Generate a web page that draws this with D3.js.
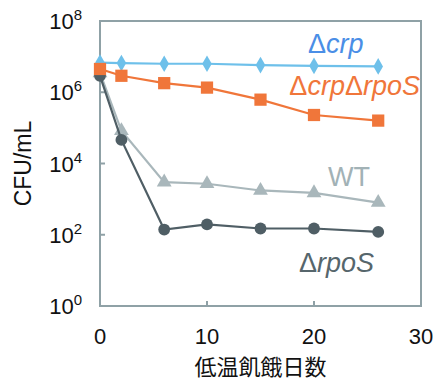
<!DOCTYPE html>
<html><head><meta charset="utf-8">
<script src="https://cdn.jsdelivr.net/npm/d3@7/dist/d3.min.js"></script>
<style>body{margin:0;background:#fff}svg{display:block}</style>
</head><body>
<script>
const days = [0, 2, 6, 10, 15, 20, 26];
const crp = [6.8e6, 6.6e6, 6.3e6, 6.3e6, 5.8e6, 5.5e6, 5.3e6];
const crpRpoS = [4.5e6, 2.9e6, 1.8e6, 1.35e6, 6.2e5, 2.3e5, 1.6e5];
const wt = [3.5e6, 8.3e4, 3.0e3, 2.7e3, 1.75e3, 1.5e3, 8.0e2];
const rpoS = [2.9e6, 4.6e4, 1.4e2, 1.95e2, 1.5e2, 1.5e2, 1.2e2];
const yTickExps = [0, 2, 4, 6, 8];
const xTicks = [0, 10, 20, 30];
const xTitle = "低温飢餓日数";
const yTitle = "CFU/mL";

const W = 437, H = 381;
const svg = d3.select("body").append("svg").attr("width", W).attr("height", H)
  .style("font-family", "'Liberation Sans', Arial, sans-serif");
const L = 100, R = 421, T = 21, B = 306;
const x = d3.scaleLinear().domain([0, 30]).range([L, R]);
const y = d3.scaleLog().domain([1, 1e8]).range([B, T]);
const axisCol = "#8fa1a6";

// frame
svg.append("rect").attr("x", L).attr("y", T).attr("width", R - L).attr("height", B - T)
  .attr("fill", "none").attr("stroke", axisCol).attr("stroke-width", 2);

// y ticks
const yTicks = yTickExps.map(e => Math.pow(10, e));
svg.append("g").selectAll("line").data(yTicks.slice(1, -1)).join("line")
  .attr("x1", L).attr("x2", L + 5).attr("y1", d => y(d)).attr("y2", d => y(d))
  .attr("stroke", axisCol).attr("stroke-width", 2);
const yl = svg.append("g").selectAll("text").data(yTickExps).join("text")
  .attr("x", 82).attr("y", e => y(Math.pow(10, e)) + 8)
  .attr("text-anchor", "end").attr("font-size", 22).attr("fill", "#111");
yl.append("tspan").text("10");
yl.append("tspan").attr("dy", -9).attr("font-size", 15).text(e => e);

// x ticks
svg.append("g").selectAll("line").data(xTicks.slice(1, -1)).join("line")
  .attr("x1", d => x(d)).attr("x2", d => x(d)).attr("y1", B).attr("y2", B - 5)
  .attr("stroke", axisCol).attr("stroke-width", 2);
svg.append("g").selectAll("text").data(xTicks).join("text")
  .attr("x", d => x(d)).attr("y", 344).attr("text-anchor", "middle")
  .attr("font-size", 22).attr("fill", "#111").text(d => d);

svg.append("text").attr("x", (L + R) / 2).attr("y", 374.5).attr("text-anchor", "middle")
  .attr("font-size", 22).attr("fill", "#111")
  .style("font-family", "'Noto Sans CJK JP', sans-serif").text(xTitle);
svg.append("text").attr("transform", `translate(31,${(T + B) / 2}) rotate(-90)`)
  .attr("text-anchor", "middle").attr("font-size", 23).attr("fill", "#111").text(yTitle);

const line = d3.line().x((d, i) => x(days[i])).y(d => y(d));
function series(vals, color, shape, size) {
  svg.append("path").datum(vals).attr("d", line).attr("fill", "none")
    .attr("stroke", color).attr("stroke-width", 2.2);
  svg.append("g").selectAll("path").data(vals).join("path")
    .attr("transform", (d, i) => `translate(${x(days[i])},${y(d)})`)
    .attr("d", d3.symbol().type(shape).size(size)).attr("fill", color);
}
series(wt, "#a9b7bb", d3.symbolTriangle, 95);
series(rpoS, "#4f5e65", d3.symbolCircle, 110);
series(crp, "#6ec0ea", d3.symbolDiamond, 80);
series(crpRpoS, "#f0763a", d3.symbolSquare, 150);

function label(parts, xx, yy, color, anchor) {
  const t = svg.append("text").attr("x", xx).attr("y", yy).attr("text-anchor", anchor)
    .attr("font-size", 27).attr("fill", color);
  parts.forEach(p => t.append("tspan").attr("font-style", p[1] ? "italic" : "normal").text(p[0]));
}
label([["Δ", 0], ["crp", 1]], 308, 53, "#4a8ee6", "start");
label([["Δ", 0], ["crp", 1], ["Δ", 0], ["rpoS", 1]], 420, 95, "#f0763a", "end");
label([["WT", 0]], 328, 186, "#a2b2b6", "start");
label([["Δ", 0], ["rpoS", 1]], 299, 272, "#56666c", "start");
</script>
</body></html>
